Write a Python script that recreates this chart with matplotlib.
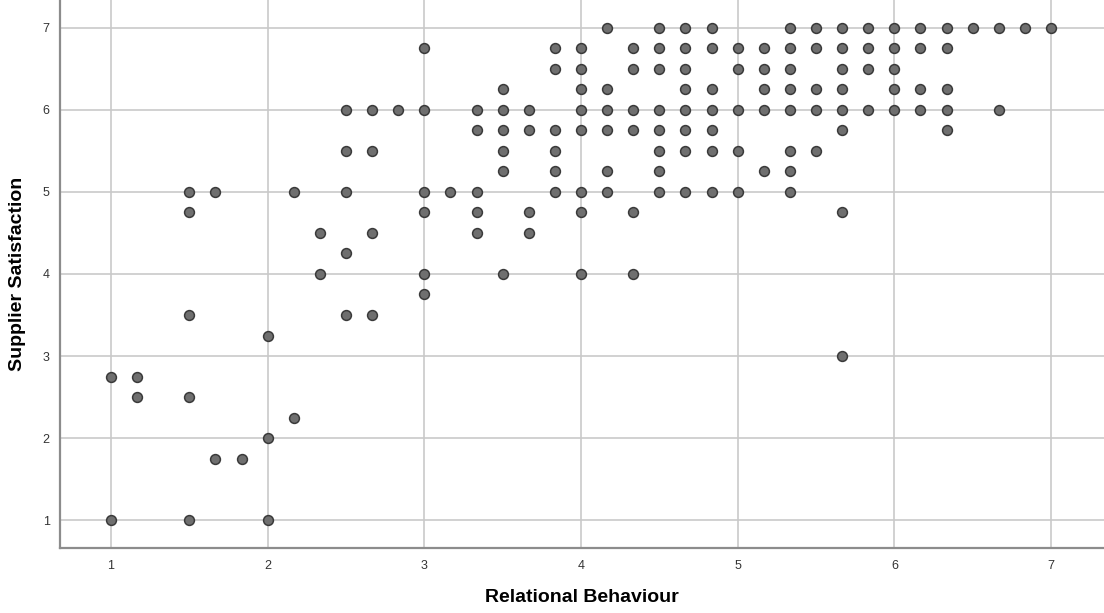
import numpy as np
import matplotlib.pyplot as plt

plt.rcParams['font.family'] = ['Liberation Sans', 'DejaVu Sans']

# Relational Behaviour levels (steps of 1/6) and the Supplier Satisfaction values seen at each
x_levels = [1, 7/6, 1.5, 5/3, 11/6, 2, 13/6, 7/3, 2.5, 8/3, 17/6, 3, 19/6, 10/3, 3.5,
            11/3, 23/6, 4, 25/6, 13/3, 4.5, 14/3, 29/6, 5, 31/6, 16/3, 5.5, 17/3,
            35/6, 6, 37/6, 19/3, 6.5, 20/3, 41/6, 7]
y_at_level = [
    [2.75, 1],
    [2.75, 2.5],
    [5, 4.75, 3.5, 2.5, 1],
    [5, 1.75],
    [1.75],
    [3.25, 2, 1],
    [5, 2.25],
    [4.5, 4],
    [6, 5.5, 5, 4.25, 3.5],
    [6, 5.5, 4.5, 3.5],
    [6],
    [6.75, 6, 5, 4.75, 4, 3.75],
    [5],
    [6, 5.75, 5, 4.75, 4.5],
    [6.25, 6, 5.75, 5.5, 5.25, 4],
    [6, 5.75, 4.75, 4.5],
    [6.75, 6.5, 5.75, 5.5, 5.25, 5],
    [6.75, 6.5, 6.25, 6, 5.75, 5, 4.75, 4],
    [7, 6.25, 6, 5.75, 5.25, 5],
    [6.75, 6.5, 6, 5.75, 4.75, 4],
    [7, 6.75, 6.5, 6, 5.75, 5.5, 5.25, 5],
    [7, 6.75, 6.5, 6.25, 6, 5.75, 5.5, 5],
    [7, 6.75, 6.25, 6, 5.75, 5.5, 5],
    [6.75, 6.5, 6, 5.5, 5],
    [6.75, 6.5, 6.25, 6, 5.25],
    [7, 6.75, 6.5, 6.25, 6, 5.5, 5.25, 5],
    [7, 6.75, 6.25, 6, 5.5],
    [7, 6.75, 6.5, 6.25, 6, 5.75, 4.75, 3],
    [7, 6.75, 6.5, 6],
    [7, 6.75, 6.5, 6.25, 6],
    [7, 6.75, 6.25, 6],
    [7, 6.75, 6.25, 6, 5.75],
    [7],
    [7, 6],
    [7],
    [7],
]
x_ticks = [1, 2, 3, 4, 5, 6, 7]
y_ticks = [1, 2, 3, 4, 5, 6, 7]

relational = [x for x, ys in zip(x_levels, y_at_level) for _ in ys]
satisfaction = [y for ys in y_at_level for y in ys]

fig = plt.figure(figsize=(11.04, 6.13), dpi=100)
ax = fig.add_axes([59.5/1104, 1 - 547.5/613, 1 - 59.5/1104, 547.5/613])

ax.scatter(relational, satisfaction, s=50, c='#6f6f6f', edgecolors='#3a3a3a',
           linewidths=1.1, zorder=3)

ax.set_xlim(0.671, 7.338)
ax.set_ylim(0.665, 7.341)
ax.set_xticks(x_ticks)
ax.set_yticks(y_ticks)
ax.grid(True, color='#c9c9c9', linewidth=1.2, zorder=0)
ax.set_axisbelow(True)
ax.tick_params(length=0, labelsize=9, labelcolor='#333333', pad=9)
ax.tick_params(axis='y', pad=7)

for side in ['top', 'right']:
    ax.spines[side].set_visible(False)
for side in ['left', 'bottom']:
    ax.spines[side].set_color('#8c8c8c')
    ax.spines[side].set_linewidth(1.6)

ax.set_xlabel('Relational Behaviour', fontsize=14, fontweight='bold', va='center')
ax.set_ylabel('Supplier Satisfaction', fontsize=14, fontweight='bold', va='center')
ax.xaxis.set_label_coords(0.5, (547.5 - 598) / 547.5)
ax.yaxis.set_label_coords((17 - 59.5) / 1044.5, 0.5)

fig.savefig('out.png', dpi=100)
